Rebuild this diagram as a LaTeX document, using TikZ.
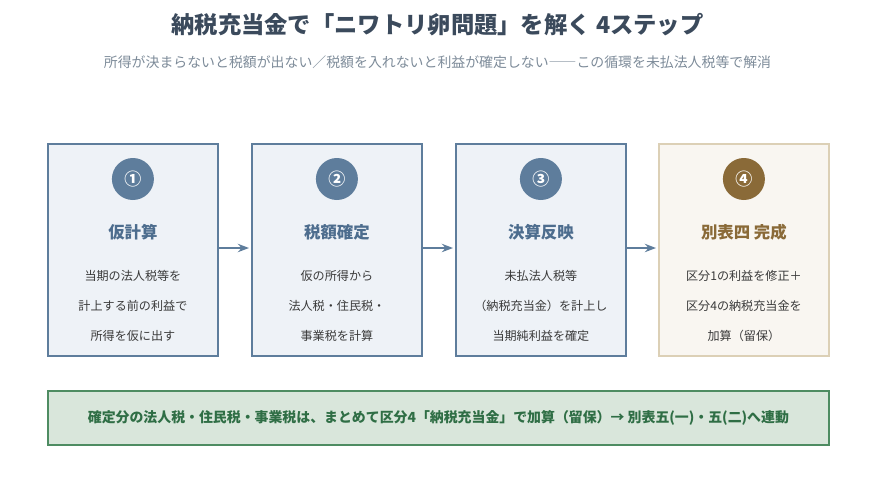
\documentclass[tikz,border=0pt]{standalone}
\usepackage{fontspec}
\setmainfont{Noto Sans CJK JP}
\usetikzlibrary{arrows.meta, positioning, calc}
\usepackage{xcolor}
\definecolor{inkdark}{HTML}{3B4A5C}
\definecolor{inkgray}{HTML}{7D8B99}
\definecolor{stepline}{HTML}{5E7D9C}
\definecolor{stepfill}{HTML}{EEF2F7}
\definecolor{steptext}{HTML}{4D6D8E}
\definecolor{goldline}{HTML}{DCD0B6}
\definecolor{goldfill}{HTML}{F9F6F1}
\definecolor{goldtext}{HTML}{8A6A38}
\definecolor{notefill}{HTML}{D9E6DB}
\definecolor{noteline}{HTML}{4E8C62}
\definecolor{notetext}{HTML}{2F6E45}
\definecolor{bodytext}{HTML}{3A3A3A}

\begin{document}
\begin{tikzpicture}[x=1pt, y=-1pt, >=Stealth,
    stepbox/.style={draw=stepline, fill=stepfill, line width=1.8pt, minimum width=170pt, minimum height=212pt, anchor=north west},
    goldbox/.style={stepbox, draw=goldline, fill=goldfill},
    badge/.style={circle, fill=stepline, minimum size=42pt, inner sep=0pt, text=white, font=\fontsize{17}{17}\selectfont\bfseries},
    steptitle/.style={font=\fontsize{16.4}{19}\selectfont\bfseries, text=steptext},
    stepbody/.style={font=\fontsize{12.1}{30}\selectfont, text=bodytext, align=center},
    link/.style={->, draw=stepline, line width=1.8pt, shorten >=2pt}]

  \useasboundingbox (0,0) rectangle (875,498);

  % heading
  \node[font=\fontsize{23.3}{27}\selectfont\bfseries, text=inkdark] (head) at (437.5,25) {納税充当金で「ニワトリ卵問題」を解く 4ステップ};
  \node[font=\fontsize{13.9}{16}\selectfont, text=inkgray] (sub) at (437.5,62) {所得が決まらないと税額が出ない／税額を入れないと利益が確定しない――この循環を未払法人税等で解消};

  % step boxes
  \node[stepbox] (s1) at (47,143) {};
  \node[stepbox] (s2) at (251,143) {};
  \node[stepbox] (s3) at (455,143) {};
  \node[goldbox] (s4) at (658,143) {};

  \node[badge] (b1) at ($(s1.north)+(0,36)$) {①};
  \node[badge] (b2) at ($(s2.north)+(0,36)$) {②};
  \node[badge] (b3) at ($(s3.north)+(0,36)$) {③};
  \node[badge, fill=goldtext] (b4) at ($(s4.north)+(0,36)$) {④};

  \node[steptitle] (t1) at ($(s1.north)+(0,89)$) {仮計算};
  \node[steptitle] (t2) at ($(s2.north)+(0,89)$) {税額確定};
  \node[steptitle] (t3) at ($(s3.north)+(0,89)$) {決算反映};
  \node[steptitle, text=goldtext] (t4) at ($(s4.north)+(0,89)$) {別表四 完成};

  \node[stepbody] (d1) at ($(s1.north)+(0,163)$) {当期の法人税等を\\計上する前の利益で\\所得を仮に出す};
  \node[stepbody] (d2) at ($(s2.north)+(0,163)$) {仮の所得から\\法人税・住民税・\\事業税を計算};
  \node[stepbody] (d3) at ($(s3.north)+(0,163)$) {未払法人税等\\（納税充当金）を計上し\\当期純利益を確定};
  \node[stepbody] (d4) at ($(s4.north)+(0,163)$) {区分1の利益を修正＋\\区分4の納税充当金を\\加算（留保）};

  % arrows between steps
  \draw[link] (s1.east |- 0,248) -- (s2.west |- 0,248);
  \draw[link] (s2.east |- 0,248) -- (s3.west |- 0,248);
  \draw[link] (s3.east |- 0,248) -- (s4.west |- 0,248);

  % summary
  \node[draw=noteline, fill=notefill, line width=1.8pt, minimum width=781pt, minimum height=54pt, anchor=north west, text=notetext, font=\fontsize{13.9}{16}\selectfont\bfseries] (note) at (47,390) {確定分の法人税・住民税・事業税は、まとめて区分4「納税充当金」で加算（留保）→ 別表五(一)・五(二)へ連動};

\end{tikzpicture}
\end{document}
